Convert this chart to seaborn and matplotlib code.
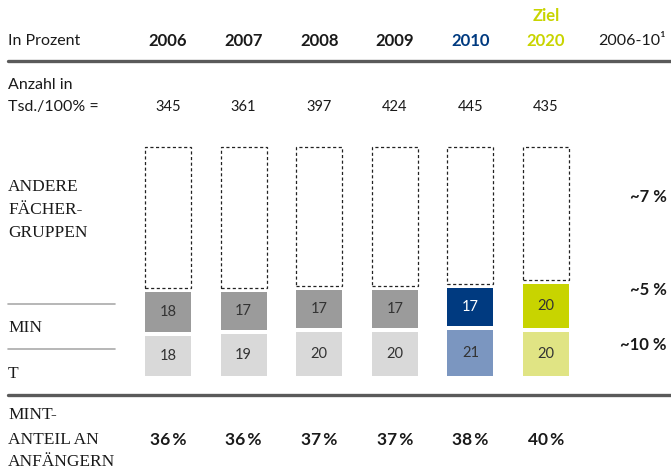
import numpy as np
import pandas as pd
import matplotlib
matplotlib.use("Agg")
import matplotlib.pyplot as plt
import seaborn as sns
from matplotlib.transforms import blended_transform_factory
from matplotlib.lines import Line2D

# ---- data -------------------------------------------------------------
years = ["2006", "2007", "2008", "2009", "2010", "2020"]
anzahl = ["345", "361", "397", "424", "445", "435"]          # Tsd. = 100 %
t_share = [18, 19, 20, 20, 21, 20]                           # Technik
min_share = [18, 17, 17, 17, 17, 20]                         # Mathematik/Informatik/Naturwiss.
mint_share = [36, 36, 37, 37, 38, 40]                        # MINT-Anteil
growth_labels = ["~7 %", "~5 %", "~10 %"]                    # 2006-10 Wachstum

# ---- styling ----------------------------------------------------------
min_colors = ["#9b9b9b"] * 4 + ["#003a80", "#c8d400"]
t_colors = ["#d9d9d9"] * 4 + ["#7b96c0", "#e0e484"]
year_colors = ["#1a1a1a"] * 4 + ["#003a80", "#c8d400"]
value_colors_min = ["#333333"] * 4 + ["#ffffff", "#333333"]
SANS = "Lato"
SERIF = "Liberation Serif"

W, H = 671, 475
sns.set_theme(style="white")
plt.rcParams["font.family"] = [SANS, "DejaVu Sans"]

df = pd.DataFrame({"Jahr": years, "T": t_share, "MIN": min_share,
                   "MINT": mint_share})
df["Andere"] = 100 - df["MINT"]

GAP = 1.8  # spacing between stacked segments, in percent units

fig = plt.figure(figsize=(W / 100, H / 100), dpi=100)
ax = fig.add_axes([0, 0, 1, 1])

bar_w = 0.608
sns.barplot(data=df, x="Jahr", y="T", ax=ax, width=bar_w, errorbar=None,
            color=t_colors[0], linewidth=0)
t_patches = list(ax.patches)
sns.barplot(data=df, x="Jahr", y="MIN", ax=ax, width=bar_w, errorbar=None,
            color=min_colors[0], linewidth=0,
            bottom=(df["T"] + GAP).to_numpy())
min_patches = list(ax.patches)[len(t_patches):]
sns.barplot(data=df, x="Jahr", y="Andere", ax=ax, width=bar_w, errorbar=None,
            color="white", linewidth=0,
            bottom=(df["MINT"] + 2 * GAP).to_numpy())
other_patches = list(ax.patches)[len(t_patches) + len(min_patches):]

for p, c in zip(t_patches, t_colors):
    p.set_facecolor(c)
for p, c in zip(min_patches, min_colors):
    p.set_facecolor(c)
for p in other_patches:
    p.set_facecolor("none")
    p.set_edgecolor("#222222")
    p.set_linewidth(0.9)
    p.set_linestyle((0, (2.5, 2)))

# map categories and percent values onto the page
col0_px, col_step_px = 168, 75.6
ax.set_xlim(-col0_px / col_step_px, (W - col0_px) / col_step_px)
base_px, top_px = 376, 147
scale = (base_px - top_px) / (100 + 2 * GAP)
ax.set_ylim(-(H - base_px) / scale, base_px / scale)
ax.axis("off")

tr = blended_transform_factory(ax.transData, fig.transFigure)


def fy(y):
    return 1 - y / H


def fx(x):
    return x / W


# values inside the bars
for i in range(len(years)):
    ax.text(i, t_share[i] / 2, str(t_share[i]), ha="center", va="center",
            fontsize=10.5, color="#333333")
    ax.text(i, t_share[i] + GAP + min_share[i] / 2, str(min_share[i]),
            ha="center", va="center", fontsize=10.5, color=value_colors_min[i])

# header row
fig.text(fx(8), fy(41), "In Prozent", ha="left", va="center", fontsize=11.5,
         color="#1a1a1a")
for i, (yr, c) in enumerate(zip(years, year_colors)):
    fig.text(i, fy(41), yr, transform=tr, ha="center", va="center",
             fontsize=12, fontweight="bold", color=c)
fig.text(5, fy(16), "Ziel", transform=tr, ha="center", va="center",
         fontsize=12, fontweight="bold", color=year_colors[5])
fig.text(fx(598), fy(41), "2006-10¹", ha="left", va="center", fontsize=11.5,
         color="#1a1a1a")

# totals row
fig.text(fx(8), fy(85), "Anzahl in", ha="left", va="center", fontsize=11.5,
         color="#1a1a1a")
fig.text(fx(8), fy(107), "Tsd./100% =", ha="left", va="center",
         fontsize=11.5, color="#1a1a1a")
for i, n in enumerate(anzahl):
    fig.text(i, fy(107), n, transform=tr, ha="center", va="center",
             fontsize=10.5, color="#1a1a1a")

# row labels on the left
serif_kw = dict(ha="left", va="center", fontsize=12.5, color="#1a1a1a",
                family=SERIF)
for y, s in [(187, "ANDERE"), (210, "FÄCHER-"), (233, "GRUPPEN"),
             (328, "MIN"), (374, "T"),
             (415, "MINT-"), (440, "ANTEIL AN"), (462, "ANFÄNGERN")]:
    fig.text(fx(8), fy(y), s, **serif_kw)

# MINT share row
for i, v in enumerate(mint_share):
    fig.text(i, fy(440), f"{v}\u2009%", transform=tr, ha="center",
             va="center", fontsize=12.5, fontweight="bold", color="#1a1a1a")

# growth column
for y, s in zip([197, 290, 345], growth_labels):
    fig.text(fx(667), fy(y), s, ha="right", va="center", fontsize=12,
             fontweight="bold", color="#1a1a1a")

# rules
for y in (61, 395):
    fig.add_artist(Line2D([fx(8), 1], [fy(y), fy(y)], transform=fig.transFigure,
                          color="#5a5a5a", linewidth=2.4))
for y in (304, 349):
    fig.add_artist(Line2D([fx(8), fx(115)], [fy(y), fy(y)],
                          transform=fig.transFigure, color="#aaaaaa",
                          linewidth=1.2))

fig.savefig("out.png", dpi=100, facecolor="white")
